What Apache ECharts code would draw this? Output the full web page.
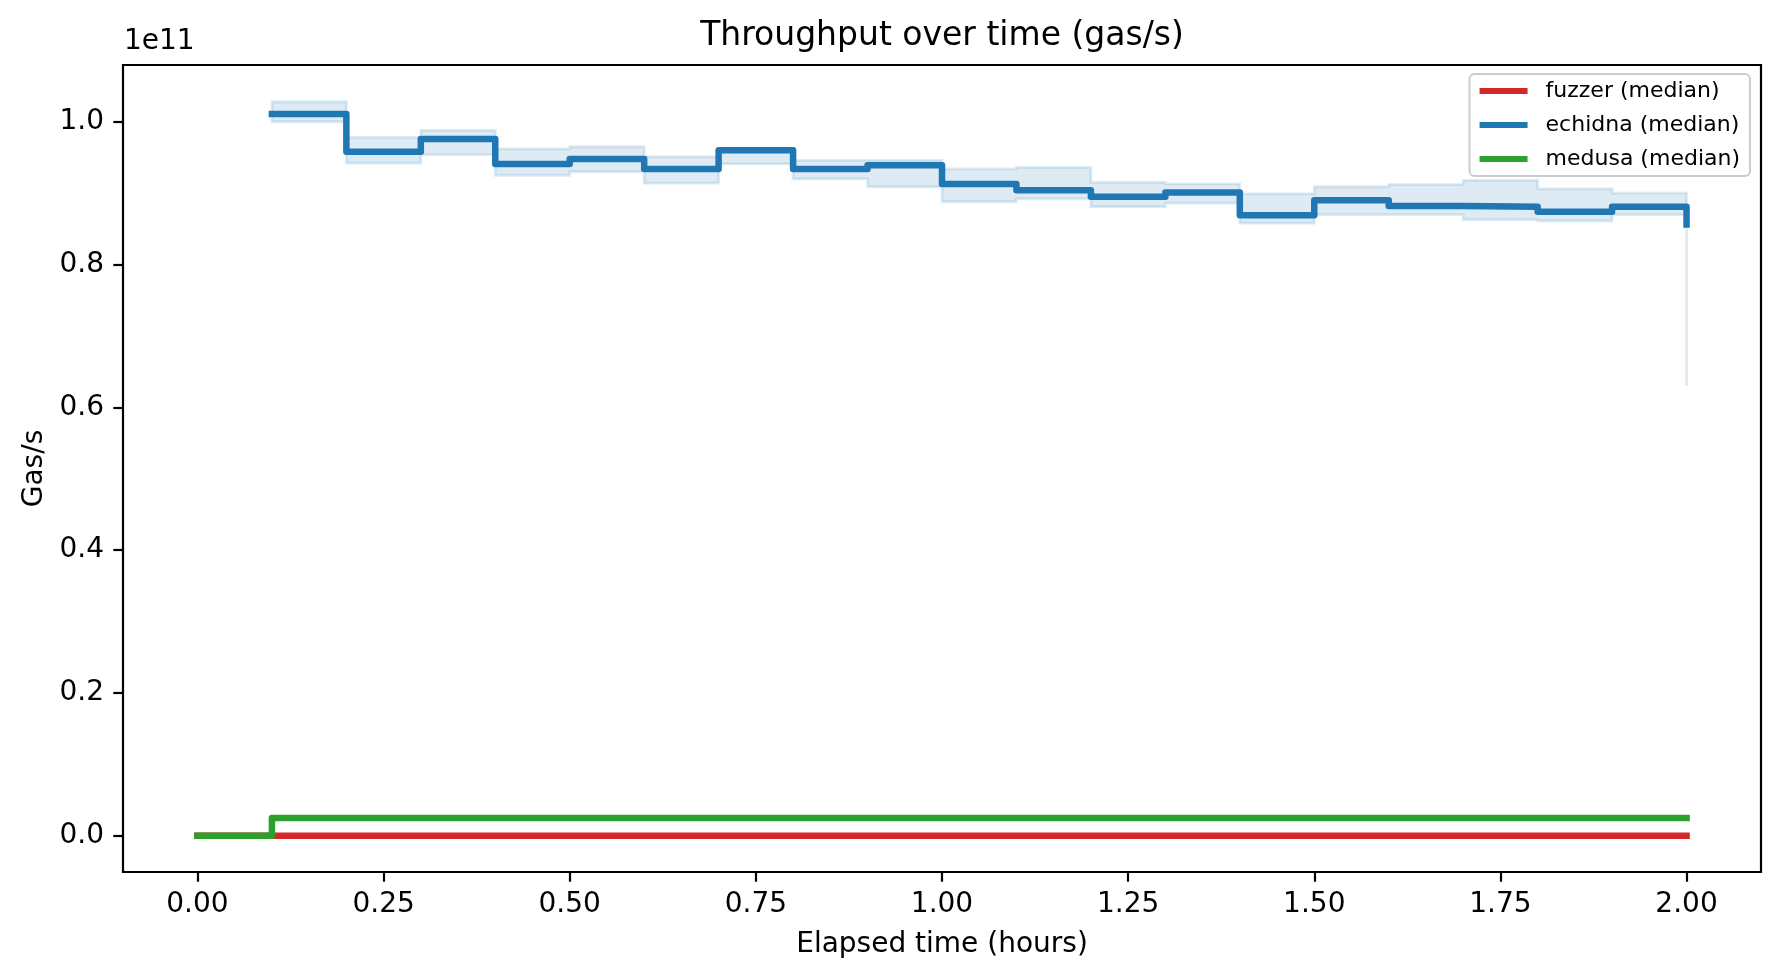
<!DOCTYPE html>
<html>
<head>
<meta charset="utf-8">
<script src="https://cdn.jsdelivr.net/npm/echarts@6/dist/echarts.min.js"></script>
<style>
html,body{margin:0;padding:0;background:#fff;}
#chart{width:1780px;height:978px;}
</style>
</head>
<body>
<div id="chart"></div>
<script>
// ---- data (gas/s) ----
const allHours = [0.0,0.1,0.2,0.3,0.4,0.5,0.6,0.7,0.8,0.9,1.0,1.1,1.2,1.3,1.4,1.5,1.6,1.7,1.8,1.9,2.0];
const fuzzerMedian = [0,0,0,0,0,0,0,0,0,0,0,0,0,0,0,0,0,0,0,0,0];
const medusaMedian = [0,2.48e9,2.48e9,2.48e9,2.48e9,2.48e9,2.48e9,2.48e9,2.48e9,2.48e9,2.48e9,2.48e9,2.48e9,2.48e9,2.48e9,2.48e9,2.48e9,2.48e9,2.48e9,2.48e9,2.48e9];
const echidnaHours = [0.1,0.2,0.3,0.4,0.5,0.6,0.7,0.8,0.9,1.0,1.1,1.2,1.3,1.4,1.5,1.6,1.7,1.8,1.9,2.0];
const echidnaMedian = [1.011e11,0.958e11,0.976e11,0.941e11,0.948e11,0.934e11,0.960e11,0.934e11,0.939e11,0.913e11,0.904e11,0.895e11,0.901e11,0.869e11,0.890e11,0.882e11,0.881e11,0.874e11,0.881e11,0.856e11];
const echidnaLow = [1.000e11,0.942e11,0.954e11,0.925e11,0.930e11,0.914e11,0.941e11,0.920e11,0.909e11,0.888e11,0.892e11,0.881e11,0.886e11,0.858e11,0.870e11,0.870e11,0.863e11,0.861e11,0.870e11,0.630e11];
const echidnaHigh = [1.028e11,0.978e11,0.988e11,0.962e11,0.965e11,0.951e11,0.962e11,0.946e11,0.946e11,0.934e11,0.936e11,0.915e11,0.913e11,0.899e11,0.909e11,0.912e11,0.918e11,0.906e11,0.900e11,0.880e11];
const xTicks = [0.0,0.25,0.5,0.75,1.0,1.25,1.5,1.75,2.0];
const yTicks = [0,0.2e11,0.4e11,0.6e11,0.8e11,1.0e11];
const seriesNames = ['fuzzer (median)','echidna (median)','medusa (median)'];
const colors = {fuzzer:'#d62728', echidna:'#1f77b4', medusa:'#2ca02c'};

const FONT = 'DejaVu Sans';
const pair = (xs, ys) => xs.map((x,i)=>[x, ys[i]]);

function lineSeries(name, data, color, z){
  return {
    name, type:'line', data, step:'end', showSymbol:false, symbol:'none',
    z, animation:false, silent:true,
    itemStyle:{color},
    lineStyle:{color, width:6.5, cap:'square', join:'round'}
  };
}

// band polygon (fill_between, step='post') built through the axis scales
function bandRenderItem(params, api){
  if (params.dataIndex !== 0) return null;
  const n = echidnaHours.length;
  const pts = [];
  for (let i=0;i<n;i++){
    pts.push(api.coord([echidnaHours[i], echidnaHigh[i]]));
    if (i<n-1) pts.push(api.coord([echidnaHours[i+1], echidnaHigh[i]]));
  }
  for (let i=n-1;i>=0;i--){
    if (i<n-1) pts.push(api.coord([echidnaHours[i+1], echidnaLow[i]]));
    pts.push(api.coord([echidnaHours[i], echidnaLow[i]]));
  }
  return {
    type:'polygon',
    shape:{points:pts},
    style:{fill:'rgba(31,119,180,0.15)', stroke:'rgba(31,119,180,0.15)', lineWidth:2.8, lineJoin:'miter'}
  };
}

const chart = echarts.init(document.getElementById('chart'), null, {renderer:'canvas'});
chart.setOption({
  backgroundColor:'#fff',
  animation:false,
  title:{
    text:'Throughput over time (gas/s)',
    left:937, top:15, textAlign:'center',
    textStyle:{fontFamily:FONT, fontSize:33, fontWeight:'normal', color:'#000'}
  },
  graphic:[{
    type:'text', left:124, top:28,
    style:{text:'1e11', font:'28px "DejaVu Sans"', fill:'#000'}
  }],
  legend:{
    orient:'vertical', right:30, top:74,
    data:seriesNames.map(n=>({name:n, icon:'rect'})),
    itemWidth:48, itemHeight:6, itemGap:12,
    padding:[6,10,6,10],
    backgroundColor:'rgba(255,255,255,0.8)',
    borderColor:'#cccccc', borderWidth:2, borderRadius:5,
    selectedMode:false,
    textStyle:{fontFamily:FONT, fontSize:22, color:'#000', padding:[0,0,0,13], lineHeight:22}
  },
  grid:{left:123, top:65, right:19, bottom:106, show:true, borderColor:'#000', borderWidth:2.2, backgroundColor:'transparent', containLabel:false},
  xAxis:{
    type:'value', min:-0.1, max:2.1,
    name:'Elapsed time (hours)', nameLocation:'middle', nameGap:59,
    nameTextStyle:{fontFamily:FONT, fontSize:28, color:'#000'},
    axisLine:{show:false, onZero:false},
    splitLine:{show:false},
    axisTick:{show:true, length:9.7, lineStyle:{color:'#000', width:2.2}, customValues:xTicks},
    axisLabel:{fontFamily:FONT, fontSize:28, color:'#000', margin:19, customValues:xTicks, formatter:v=>v.toFixed(2)}
  },
  yAxis:{
    type:'value', min:-0.0508e11, max:1.0795e11,
    name:'Gas/s', nameLocation:'middle', nameGap:72, nameRotate:90,
    nameTextStyle:{fontFamily:FONT, fontSize:28, color:'#000'},
    axisLine:{show:false, onZero:false},
    splitLine:{show:false},
    axisTick:{show:true, length:9.7, lineStyle:{color:'#000', width:2.2}, customValues:yTicks},
    axisLabel:{fontFamily:FONT, fontSize:28, color:'#000', margin:19, customValues:yTicks, formatter:v=>(v/1e11).toFixed(1)}
  },
  series:[
    lineSeries(seriesNames[0], pair(allHours, fuzzerMedian), colors.fuzzer, 2),
    {
      name:'echidna band', type:'custom', renderItem:bandRenderItem,
      data:pair(echidnaHours, echidnaLow), encode:{x:0, y:1},
      z:2, silent:true, animation:false, clip:true
    },
    lineSeries(seriesNames[1], pair(echidnaHours, echidnaMedian), colors.echidna, 3),
    lineSeries(seriesNames[2], pair(allHours, medusaMedian), colors.medusa, 4)
  ]
});
</script>
</body>
</html>
